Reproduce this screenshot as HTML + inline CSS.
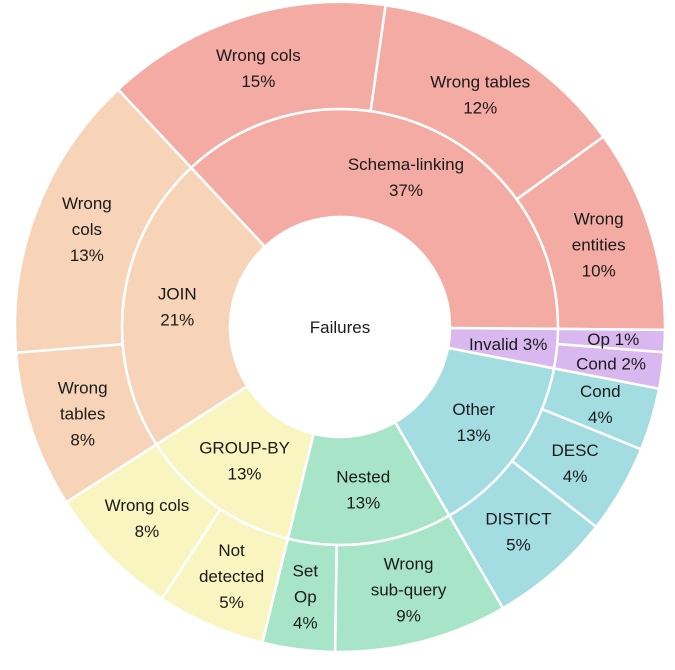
<!DOCTYPE html>
<html><head><meta charset="utf-8"><style>
html,body{margin:0;padding:0;background:#fff;}
svg text{font-family:"Liberation Sans","DejaVu Sans",sans-serif;font-size:17px;fill:#1a1a1a;}
</style></head><body>
<svg id="chart" width="675" height="665" viewBox="0 0 675 665" xmlns="http://www.w3.org/2000/svg"></svg>
<script>
const parents = ["Schema-linking","JOIN","GROUP-BY","Nested","Other","Invalid"];
const parentValues = [37.1,22.1,12.1,12.2,13.6,2.9];
const parentColors = ["#f4aba3","#f7d3b8","#f8f5c0","#a8e4c8","#a3dde2","#d8b8ef"];
const childParent = [0,0,0,1,1,2,2,3,3,4,4,4,5,5];
const childLabels = [["Wrong","entities","10%"],["Wrong tables","12%"],["Wrong cols","15%"],["Wrong","cols","13%"],["Wrong","tables","8%"],["Wrong cols","8%"],["Not","detected","5%"],["Set","Op","4%"],["Wrong","sub-query","9%"],["DISTICT","5%"],["DESC","4%"],["Cond","4%"],["Cond 2%"],["Op 1%"]];
const childValues = [10.1,12.8,14.2,14.3,7.8,6.7,5.4,3.6,8.6,6.1,4.4,3.1,1.8,1.1];
const parentLabels = [["Schema-linking","37%"],["JOIN","21%"],["GROUP-BY","13%"],["Nested","13%"],["Other","13%"],["Invalid 3%"]];

const svg=document.getElementById('chart');
const NS='http://www.w3.org/2000/svg';
const cx=340, cy=327, r0=110, r1=218, r2=325, startDeg=-0.5;
const total=childValues.reduce((a,b)=>a+b,0);
function ang(v){return (startDeg+v/total*360)*Math.PI/180;}
function pt(r,a){return [cx+r*Math.cos(a), cy-r*Math.sin(a)];}
function arc(ri,ro,a0,a1){
  const [x0,y0]=pt(ro,a0),[x1,y1]=pt(ro,a1),[x2,y2]=pt(ri,a1),[x3,y3]=pt(ri,a0);
  const lg=(a1-a0)>Math.PI?1:0;
  return `M${x0},${y0}A${ro},${ro} 0 ${lg} 0 ${x1},${y1}L${x2},${y2}A${ri},${ri} 0 ${lg} 1 ${x3},${y3}Z`;
}
function label(lines,x,y,name){
  const t=document.createElementNS(NS,'text');
  
  
  t.setAttribute('text-anchor','middle');
  const lh=26, y0=y-(lines.length-1)*lh/2+6;
  lines.forEach((s,i)=>{const ts=document.createElementNS(NS,'tspan');ts.setAttribute('x',x);ts.setAttribute('y',y0+i*lh);ts.textContent=s;t.appendChild(ts);});
  svg.appendChild(t);
}
function slug(s){return s.toLowerCase().replace(/[^a-z0-9]+/g,'-').replace(/-+$/,'');}
let acc=0;
parentValues.forEach((v,i)=>{
  const a0=ang(acc),a1=ang(acc+v);acc+=v;
  const p=document.createElementNS(NS,'path');
  p.setAttribute('d',arc(r0,r1,a0,a1));
  p.setAttribute('fill',parentColors[i]);p.setAttribute('stroke','#fff');p.setAttribute('stroke-width','2.5');
  
  
  svg.appendChild(p);
});
acc=0;
childValues.forEach((v,i)=>{
  const a0=ang(acc),a1=ang(acc+v);acc+=v;
  const p=document.createElementNS(NS,'path');
  p.setAttribute('d',arc(r1,r2,a0,a1));
  p.setAttribute('fill',parentColors[childParent[i]]);p.setAttribute('stroke','#fff');p.setAttribute('stroke-width','2.5');
  
  
  svg.appendChild(p);
});
acc=0;
parentValues.forEach((v,i)=>{
  const am=ang(acc+v/2);acc+=v;
  let rr=(r0+r1)/2; if(v<5) rr=(r0+r1)/2+5;
  const [x,y]=pt(rr,am);
  label(parentLabels[i],x,y,'label-'+slug(parents[i]));
});
acc=0;
childValues.forEach((v,i)=>{
  const am=ang(acc+v/2);acc+=v;
  const rr=v<3?(r1+r2)/2+2:(r1+r2)/2;
  const [x,y]=pt(rr,am);
  label(childLabels[i],x,y,'label-child-'+i);
});
label(["Failures"],cx,cy,'center-label');
</script>
</body></html>
